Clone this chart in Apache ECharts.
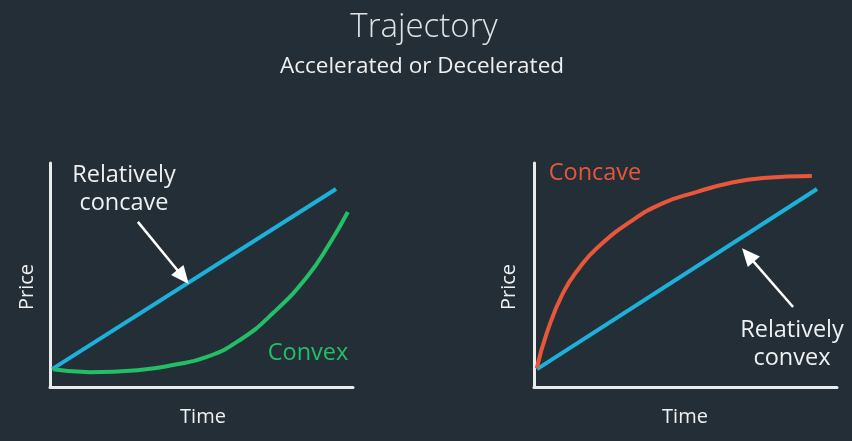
<!DOCTYPE html>
<html><head><meta charset="utf-8">
<script src="https://cdn.jsdelivr.net/npm/echarts@6/dist/echarts.min.js"></script>
<style>html,body{margin:0;padding:0;background:#242e36}#c{width:852px;height:441px}</style>
</head><body><div id="c"></div>
<script>
// Left panel: linear reference (blue) and convex curve (green)
const linearLeftTime = [0.07, 9.44];
const linearLeftPrice = [0.80, 8.84];
const convexTime = [0.10, 1.32, 2.97, 4.06, 5.18, 6.27, 7.36, 8.48, 9.24, 9.83];
const convexPrice = [0.79, 0.66, 0.76, 0.98, 1.34, 2.10, 3.30, 4.91, 6.43, 7.81];
// Right panel: linear reference (blue) and concave curve (red)
const linearRightTime = [0.10, 9.34];
const linearRightPrice = [0.80, 8.84];
const concaveTime = [0.09, 0.42, 0.96, 1.52, 2.08, 3.17, 4.26, 5.38, 6.47, 7.56, 9.17];
const concavePrice = [0.83, 2.40, 4.20, 5.36, 6.21, 7.37, 8.21, 8.71, 9.11, 9.33, 9.42];
// Arrow annotations (data coords: [from, to])
const arrowLeft = [[2.90, 7.37], [4.39, 4.91]];
const arrowRight = [[8.55, 3.57], [7.06, 5.89]];

const zip = (a, b) => a.map((v, i) => [v, b[i]]);
const FONT = '"Open Sans", "Noto Sans", sans-serif';
const TXT = '#eef0f1';
const BLUE = '#1cb1da', GREEN = '#22bf66', RED = '#e9573b', AX = '#e9ebec';

function axisX(gi) {
  return { gridIndex: gi, type: 'value', min: 0, max: 10,
    axisLine: { show: true, lineStyle: { color: AX, width: 3 } },
    axisTick: { show: false }, axisLabel: { show: false }, splitLine: { show: false } };
}
function axisY(gi) {
  return { gridIndex: gi, type: 'value', min: 0, max: 10,
    axisLine: { show: true, lineStyle: { color: AX, width: 3 } },
    axisTick: { show: false }, axisLabel: { show: false }, splitLine: { show: false } };
}
function arrowML(a) {
  return { silent: true, symbol: ['none', 'triangle'], symbolSize: [16, 18],
    lineStyle: { color: '#ffffff', width: 2.5, type: 'solid' },
    itemStyle: { color: '#ffffff' },
    label: { show: false }, emphasis: { disabled: true }, animation: false,
    data: [[{ coord: a[0] }, { coord: a[1] }]] };
}
function text(t, x, y, size, color, extra, weight) {
  return Object.assign({ type: 'text', x: x, y: y,
    style: { text: t, fill: color, font: (weight || 'normal') + ' ' + size + 'px ' + FONT, align: 'center', verticalAlign: 'middle' } }, extra || {});
}

const chart = echarts.init(document.getElementById('c'), null, { renderer: 'canvas' });
chart.setOption({
  backgroundColor: '#242e36',
  animation: false,
  grid: [
    { left: 50, right: 499, top: 163, bottom: 54 },
    { left: 534, right: 15, top: 163, bottom: 54 }
  ],
  xAxis: [axisX(0), axisX(1)],
  yAxis: [axisY(0), axisY(1)],
  series: [
    { type: 'line', xAxisIndex: 0, yAxisIndex: 0, data: zip(linearLeftTime, linearLeftPrice),
      showSymbol: false, lineStyle: { color: BLUE, width: 4 }, itemStyle: { color: BLUE },
      markLine: arrowML(arrowLeft) },
    { type: 'line', xAxisIndex: 0, yAxisIndex: 0, data: zip(convexTime, convexPrice), smooth: 0.5,
      showSymbol: false, lineStyle: { color: GREEN, width: 4 }, itemStyle: { color: GREEN } },
    { type: 'line', xAxisIndex: 1, yAxisIndex: 1, data: zip(linearRightTime, linearRightPrice),
      showSymbol: false, lineStyle: { color: BLUE, width: 4 }, itemStyle: { color: BLUE },
      markLine: arrowML(arrowRight) },
    { type: 'line', xAxisIndex: 1, yAxisIndex: 1, data: zip(concaveTime, concavePrice), smooth: 0.5,
      showSymbol: false, lineStyle: { color: RED, width: 4 }, itemStyle: { color: RED } }
  ],
  graphic: [
    text('Trajectory', 424, 28, 33, '#dfe3e5', null, '300'),
    text('Accelerated or Decelerated', 422, 67, 22.5, TXT),
    text('Relatively', 124, 175, 23.5, TXT),
    text('concave', 124, 203, 23.5, TXT),
    text('Convex', 308, 353, 23.5, GREEN),
    text('Price', 27, 287, 20, TXT, { rotation: Math.PI / 2 }),
    text('Time', 203, 417, 20, TXT),
    text('Concave', 595, 173, 23.5, RED),
    text('Relatively', 792, 330, 23.5, TXT),
    text('convex', 792, 358, 23.5, TXT),
    text('Price', 509, 287, 20, TXT, { rotation: Math.PI / 2 }),
    text('Time', 685, 417, 20, TXT)
  ]
});
</script>
</body></html>
